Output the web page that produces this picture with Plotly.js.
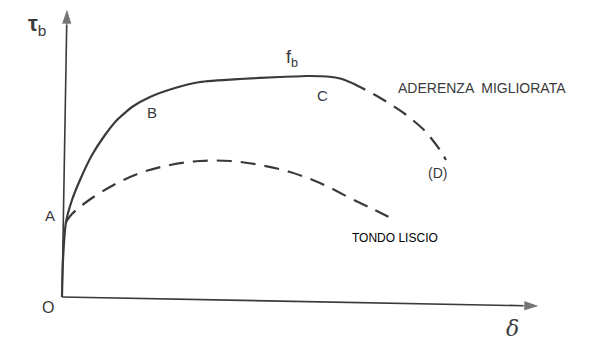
<!DOCTYPE html>
<html>
<head>
<meta charset="utf-8">
<script src="https://cdn.plot.ly/plotly-3.0.1.min.js"></script>
<style>
  html, body { margin: 0; padding: 0; background: #fff; }
  #myPlot { width: 595px; height: 342px; }
</style>
</head>
<body>
<div id="myPlot"></div>
<script>
// aderenza migliorata: tratto continuo O-A-B-C
const deltaMig = [0, 1, 4, 10, 18, 30, 43, 55, 70, 88, 113, 138, 178, 218, 245, 265, 280, 290];
const tauMig = [0, 37, 75, 97, 117, 142, 162, 177, 190, 200, 209, 215, 218, 220, 221, 220.5, 218, 214];

// aderenza migliorata: ramo discendente C-(D)
const deltaMigPost = [290, 300, 320, 343, 363, 378, 384];
const tauMigPost = [214, 209, 198, 183, 166, 147, 137];

// tondo liscio
const deltaLiscio = [4, 10, 23, 48, 78, 108, 138, 168, 198, 228, 258, 288, 313, 333];
const tauLiscio = [75, 83, 94, 110, 124, 132, 136, 136, 132, 125, 114, 99, 87, 77];

// assi (origine -> punta della freccia)
const axisDeltaX = [0, 478];
const axisDeltaY = [0, -9];
const axisTauX = [0, 5];
const axisTauY = [0, 289];

const lineColor = '#3a3a3a';

function axisTrace(xs, ys) {
  return {
    x: xs,
    y: ys,
    mode: 'lines+markers',
    line: { color: lineColor, width: 1.6 },
    marker: { symbol: 'arrow', angleref: 'previous', size: [0, 17], color: lineColor },
    hoverinfo: 'skip'
  };
}

const traceMig = {
  x: deltaMig,
  y: tauMig,
  mode: 'lines',
  line: { color: lineColor, width: 2.2, shape: 'spline', smoothing: 0.5 },
  hoverinfo: 'skip'
};

const traceMigPost = {
  x: deltaMigPost,
  y: tauMigPost,
  mode: 'lines',
  line: { color: lineColor, width: 2.2, dash: '15px,9px', shape: 'spline', smoothing: 0.8 },
  hoverinfo: 'skip'
};

const traceLiscio = {
  x: deltaLiscio,
  y: tauLiscio,
  mode: 'lines',
  line: { color: lineColor, width: 2.2, dash: '15px,9px', shape: 'spline' },
  hoverinfo: 'skip'
};

function label(text, x, y, size, extra) {
  return Object.assign({
    text: text, x: x, y: y, xref: 'x', yref: 'y',
    showarrow: false,
    font: { family: 'Liberation Sans, Arial, sans-serif', size: size, color: '#3a3a3a' }
  }, extra || {});
}

const annotations = [
  label('<b>τ</b><sub>b</sub>', -25, 272, 22),
  label('<i>δ</i>', 450, -31, 24, { font: { family: 'DejaVu Serif, serif', size: 22, color: '#3a3a3a' } }),
  label('O', -14, -10, 16),
  label('A', -12, 82, 15),
  label('B', 90, 185, 15),
  label('f<sub>b</sub>', 230, 239, 18),
  label('C', 260, 202, 15),
  label('ADERENZA  MIGLIORATA', 420, 209, 14),
  label('(D)', 375, 124, 14),
  label('TONDO LISCIO', 333, 59, 12, { font: { family: 'Liberation Sans, Arial, sans-serif', size: 12, color: '#000' } })
];

const layout = {
  width: 595,
  height: 342,
  margin: { l: 0, r: 0, t: 0, b: 0 },
  paper_bgcolor: '#fff',
  plot_bgcolor: '#fff',
  showlegend: false,
  xaxis: { range: [-62, 533], visible: false, fixedrange: true },
  yaxis: { range: [-45, 297], visible: false, fixedrange: true },
  annotations: annotations
};

Plotly.newPlot('myPlot', [
  axisTrace(axisDeltaX, axisDeltaY),
  axisTrace(axisTauX, axisTauY),
  traceMig, traceMigPost, traceLiscio
], layout, { displayModeBar: false, staticPlot: true });
</script>
</body>
</html>
